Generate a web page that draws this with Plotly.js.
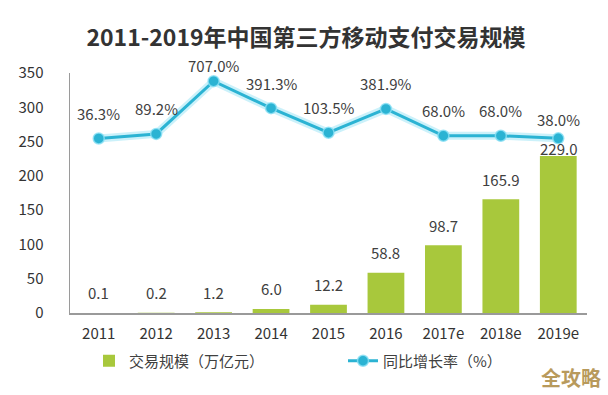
<!DOCTYPE html>
<html>
<head>
<meta charset="utf-8">
<script src="https://cdn.plot.ly/plotly-3.0.1.min.js"></script>
<style>html,body{margin:0;padding:0;background:#fff;}#chart{width:608px;height:395px;}</style>
</head>
<body>
<div id="chart"></div>
<script>
var years = ['2011','2012','2013','2014','2015','2016','2017e','2018e','2019e'];
var volume = [0.1, 0.2, 1.2, 6.0, 12.2, 58.8, 98.7, 165.9, 229.0];
var growth = [36.3, 89.2, 707.0, 391.3, 103.5, 381.9, 68.0, 68.0, 38.0];
var volumeName = '交易规模（万亿元）';
var growthName = '同比增长率（%）';

var FONT = '"Noto Sans CJK SC", "Noto Sans", sans-serif';
var TXT = '#404040';
var GREEN = '#a8c83c';
var TEAL = '#2bb3d3';

var traces = [
  {type:'bar', x:years, y:volume, name:volumeName, marker:{color:GREEN}, width:0.64,
   hoverinfo:'skip'},
  {type:'scatter', mode:'lines', x:years, y:growth, yaxis:'y2', showlegend:false,
   line:{color:'rgba(140,225,245,0.45)', width:8}, hoverinfo:'skip'},
  {type:'scatter', mode:'lines+markers', x:years, y:growth, yaxis:'y2', name:growthName,
   line:{color:TEAL, width:3}, marker:{color:TEAL, size:11, line:{color:'rgba(140,225,245,0.8)', width:1.5}}}
];

var annotations = [];
volume.forEach(function(v, i){
  annotations.push({x:i, y:v, xref:'x', yref:'y', text:v.toFixed(1), showarrow:false,
    yshift: (i === volume.length-1) ? 7 : 20, font:{family:FONT, size:15, color:TXT}});
});
growth.forEach(function(g, i){
  var s = 25;
  if (i === 2) s = 16;
  if (i === growth.length-1) s = 19;
  annotations.push({x:i, y:g, xref:'x', yref:'y2', text:g.toFixed(1)+'%', showarrow:false,
    yshift:s, font:{family:FONT, size:15, color:TXT}});
});
annotations.push({xref:'paper', yref:'paper', x:(604-70)/517.5, y:(313-377)/240, xanchor:'right', yanchor:'middle',
  text:'<b>全攻略</b>', showarrow:false, font:{family:FONT, size:20, color:'#b89a5c'}});

var layout = {
  width:608, height:395,
  margin:{l:70, r:20.5, t:73, b:82},
  paper_bgcolor:'#fff', plot_bgcolor:'#fff',
  title:{text:'<b>2011-2019年中国第三方移动支付交易规模</b>', x:306/608, xref:'container', xanchor:'center',
    y:1-38/395, yref:'container', yanchor:'middle', font:{family:FONT, size:23, color:'#333'}},
  xaxis:{type:'category', categoryorder:'array', categoryarray:years, range:[-0.5, years.length-0.5],
    showline:true, linecolor:'#9a9a9a', linewidth:1.5, showgrid:false, ticks:'',
    tickfont:{family:FONT, size:15, color:'#333'}, ticklabelstandoff:6, fixedrange:true},
  yaxis:{range:[0,350], dtick:50, showline:true, linecolor:'#9a9a9a', linewidth:1.5, showgrid:false,
    zeroline:false, ticks:'', tickfont:{family:FONT, size:15, color:'#333'}, ticklabelstandoff:22},
  yaxis2:{overlaying:'y', side:'right', range:[-2008, 803], visible:false, showgrid:false, zeroline:false},
  showlegend:true,
  legend:{orientation:'h', x:89/608, xref:'container', y:1-361/395, yref:'container', yanchor:'middle', xanchor:'left',
    font:{family:FONT, size:15, color:TXT}, entrywidth:209, entrywidthmode:'pixels', bgcolor:'rgba(0,0,0,0)'},
  annotations:annotations,
  bargap:0.36
};

Plotly.newPlot('chart', traces, layout, {displayModeBar:false, staticPlot:true});
</script>
</body>
</html>
